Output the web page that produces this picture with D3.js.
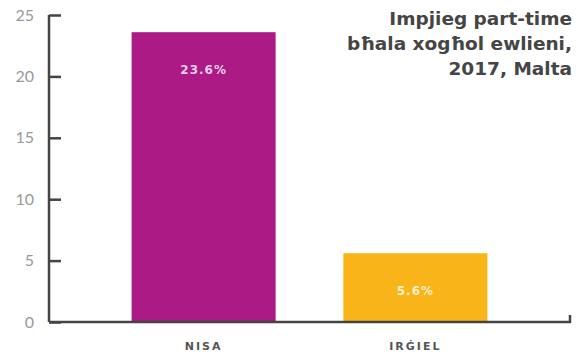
<!doctype html>
<html>
  <head>
    <meta charset="utf-8">
    <script src="https://d3js.org/d3.v7.min.js"></script>
    <style>
      body { margin: 0; background: #fff; overflow: hidden; }
      svg { display: block; }
    </style>
  </head>
  <body>
    <script>
    var categories = ['NISA', 'IRĠIEL'];
    var values = [23.6, 5.6];
    var valueLabels = ['23.6%', '5.6%'];
    var colors = ['#AC1A85', '#F8B418'];
    var yTicks = [0, 5, 10, 15, 20, 25];
    var titleLines = ['Impjieg part-time', 'bħala xogħol ewlieni,', '2017, Malta'];

    var width = 580;
    var height = 354;
    var margin = {top: 15, right: 10, bottom: 32, left: 49};
    var innerWidth = width - margin.left - margin.right;
    var innerHeight = height - margin.top - margin.bottom;

    var svg = d3.select('body')
      .append('svg')
      .attr('width', width)
      .attr('height', height);

    var g = svg.append('g')
      .attr('transform', 'translate(' + margin.left + ',' + margin.top + ')');

    var x = d3.scaleBand()
      .domain(categories)
      .range([0, innerWidth])
      .paddingInner(0.32)
      .paddingOuter(0.39);

    var y = d3.scaleLinear()
      .domain([0, 25])
      .range([innerHeight, 0]);

    // bars
    g.selectAll('.bar')
      .data(categories)
      .enter()
      .append('rect')
      .attr('class', 'bar')
      .attr('x', function(d) { return x(d); })
      .attr('y', function(d, i) { return y(values[i]); })
      .attr('width', x.bandwidth())
      .attr('height', function(d, i) { return innerHeight - y(values[i]); })
      .attr('fill', function(d, i) { return colors[i]; });

    // value labels inside bars
    g.selectAll('.val')
      .data(categories)
      .enter()
      .append('text')
      .attr('class', 'val')
      .attr('x', function(d) { return x(d) + x.bandwidth() / 2; })
      .attr('y', function(d, i) { return y(values[i]) + 42; })
      .attr('text-anchor', 'middle')
      .attr('font-family', 'DejaVu Sans, sans-serif')
      .attr('font-weight', 'bold')
      .attr('font-size', '12px')
      .attr('letter-spacing', '1px')
      .attr('fill', '#fff')
      .attr('fill-opacity', 0.8)
      .text(function(d, i) { return valueLabels[i]; });

    // y axis: tick marks point inward
    var ya = g.append('g').call(d3.axisRight(y).tickValues(yTicks).tickSize(12).tickFormat(''));
    ya.select('.domain').remove();
    ya.selectAll('.tick text').remove();
    ya.selectAll('line').attr('stroke', '#444').attr('stroke-width', 2.5);
    g.append('line')
      .attr('x1', 0).attr('x2', 0)
      .attr('y1', y(25)).attr('y2', innerHeight)
      .attr('stroke', '#444').attr('stroke-width', 2.5);

    // y tick labels
    var yl = g.append('g').call(d3.axisLeft(y).tickValues(yTicks).tickSize(0).tickPadding(15));
    yl.select('.domain').remove();
    yl.selectAll('.tick text')
      .attr('font-family', 'Lato, sans-serif')
      .attr('font-size', '16px')
      .attr('fill', '#999');

    // x axis
    g.append('path')
      .attr('d', 'M0,' + innerHeight + 'H' + innerWidth + 'V' + (innerHeight - 7))
      .attr('fill', 'none')
      .attr('stroke', '#444')
      .attr('stroke-width', 2.5);

    g.selectAll('.xlab')
      .data(categories)
      .enter()
      .append('text')
      .attr('class', 'xlab')
      .attr('x', function(d) { return x(d) + x.bandwidth() / 2; })
      .attr('y', innerHeight + 28)
      .attr('text-anchor', 'middle')
      .attr('font-family', 'DejaVu Sans, sans-serif')
      .attr('font-weight', 'bold')
      .attr('font-size', '11px')
      .attr('letter-spacing', '2px')
      .attr('fill', '#555')
      .text(function(d) { return d; });

    // title
    svg.selectAll('.title')
      .data(titleLines)
      .enter()
      .append('text')
      .attr('class', 'title')
      .attr('x', 572)
      .attr('y', function(d, i) { return 25 + i * 25; })
      .attr('text-anchor', 'end')
      .attr('font-family', 'DejaVu Sans, sans-serif')
      .attr('font-weight', 'bold')
      .attr('font-size', '18.5px')
      .attr('fill', '#454545')
      .text(function(d) { return d; });
    </script>
  </body>
</html>
